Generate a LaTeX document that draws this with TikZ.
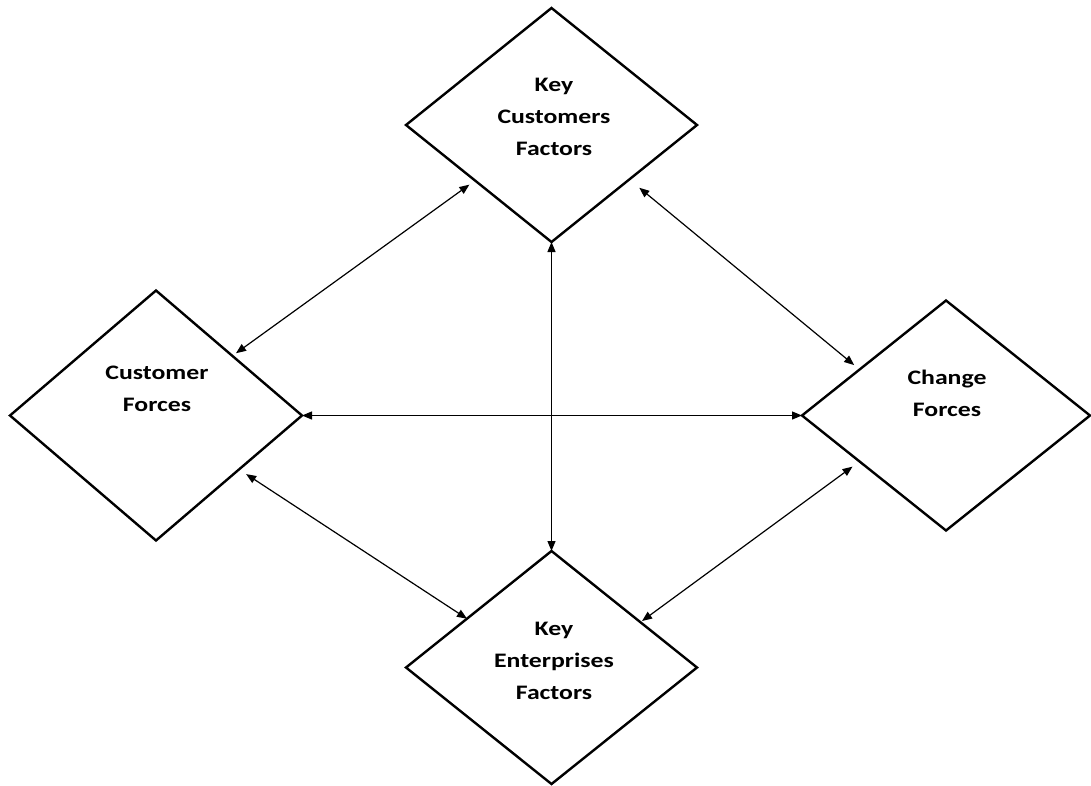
\documentclass[tikz,border=0pt]{standalone}
\usepackage{fontspec}
\setmainfont{Carlito}[FakeStretch=1.25]
\usetikzlibrary{shapes.geometric,arrows.meta}
\begin{document}
\begin{tikzpicture}[x=1pt,y=-1pt,
  factorbox/.style={diamond,draw=black,line width=2.4pt,inner sep=0pt,outer sep=0pt},
  lbl/.style={align=center,font=\bfseries\fontsize{20.6}{32}\selectfont,inner sep=0pt},
  link/.style={{Triangle[length=10pt,width=8pt]}-{Triangle[length=10pt,width=8pt]},line width=1.2pt}]
\useasboundingbox (0,0) rectangle (1091,785);

% the four factor diamonds
\node[factorbox,minimum width=291pt,minimum height=234pt] (kcf) at (551.5,125) {};
\node[factorbox,minimum width=292pt,minimum height=250pt] (cf)  at (156,415.5) {};
\node[factorbox,minimum width=288pt,minimum height=230pt] (chf) at (946,415.5) {};
\node[factorbox,minimum width=291pt,minimum height=233pt] (kef) at (551.5,667.5) {};

% their captions
\node[lbl] (kcft) at (554,117) {Key\\Customers\\Factors};
\node[lbl] (cft)  at (157,389) {Customer\\Forces};
\node[lbl] (chft) at (947,393) {Change\\Forces};
\node[lbl] (keft) at (554,661) {Key\\Enterprises\\Factors};

% two-way links
\draw[link] (kcf.south) -- (kef.north);
\draw[link] (cf.east) -- (chf.west);
\draw[link,shorten <=4.5pt,shorten >=7pt] (cf.38.5) -- (kcf.216.4);
\draw[link,shorten <=13pt,shorten >=7pt] (kcf.325.7) -- (chf.152.8);
\draw[link,shorten <=8.5pt] (cf.-33.8) -- (kef.150.3);
\draw[link,shorten <=2pt,shorten >=8.7pt] (kef.27.8) -- (chf.208.3);
\end{tikzpicture}
\end{document}
